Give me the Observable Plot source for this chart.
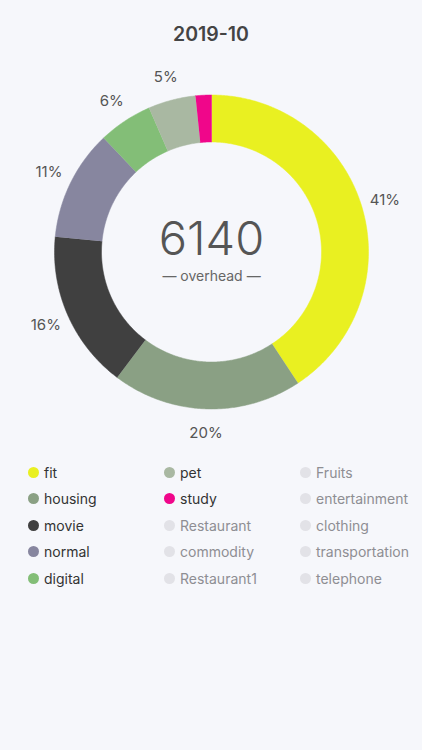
<!DOCTYPE html>
<html>
<head>
<meta charset="utf-8">
<script src="https://cdn.jsdelivr.net/npm/d3@7"></script>
<script src="https://cdn.jsdelivr.net/npm/@observablehq/plot@0.6"></script>
<style>
  body { margin: 0; background: #f6f7fb; font-family: Inter, "Open Sans", sans-serif; width: 422px; height: 750px; overflow: hidden; }
  #title { position: absolute; top: 22px; left: 0; width: 422px; text-align: center; font-size: 19.5px; font-weight: 600; color: #444; }
  #chart { position: absolute; top: 52px; left: 0; }
  #legend { position: absolute; top: 459px; left: 28px; display: grid; grid-template-columns: 136px 136px 136px; grid-auto-flow: column; grid-template-rows: repeat(5, 26.5px); }
  .item { display: flex; align-items: center; font-size: 14px; color: #333; }
  .item .dot { width: 11px; height: 11px; border-radius: 50%; margin-right: 5px; }
  .item.off { color: #8e8e93; }
</style>
</head>
<body>
<div id="title">2019-10</div>
<div id="chart"></div>
<div id="legend"></div>
<script>
// slices of the month, in drawing order (clockwise from the top)
const categories = ["fit", "housing", "movie", "normal", "digital", "pet", "study"];
const values = [2500, 1200, 1000, 700, 340, 300, 100];
const colors = ["#e9f021", "#8aa084", "#404040", "#87869f", "#83be77", "#a9b8a2", "#f0068a"];
// categories with nothing spent
const emptyCategories = ["Restaurant", "commodity", "Restaurant1", "Fruits", "entertainment", "clothing", "transportation", "telephone"];
const centerLabel = "— overhead —";

const total = d3.sum(values);
const outerR = 157, innerR = 110, labelR = 181;

// build slice polygons in pixel-like units around the centre
const slices = [];
const polys = [];
let acc = 0;
categories.forEach((c, i) => {
  const a0 = acc / total * 2 * Math.PI;
  acc += values[i];
  const a1 = acc / total * 2 * Math.PI;
  const n = Math.max(4, Math.ceil((a1 - a0) / 0.01));
  for (let k = 0; k <= n; k++) {
    const a = a0 + (a1 - a0) * k / n;
    polys.push({ cat: c, x: outerR * Math.sin(a), y: outerR * Math.cos(a) });
  }
  for (let k = n; k >= 0; k--) {
    const a = a0 + (a1 - a0) * k / n;
    polys.push({ cat: c, x: innerR * Math.sin(a), y: innerR * Math.cos(a) });
  }
  const mid = (a0 + a1) / 2;
  slices.push({ cat: c, pct: Math.round(values[i] / total * 100), x: labelR * Math.sin(mid), y: labelR * Math.cos(mid) });
});

const chart = Plot.plot({
  width: 422,
  height: 400,
  margin: 0,
  x: { domain: [-211, 211], axis: null },
  y: { domain: [-200.5, 199.5], axis: null },
  color: { domain: categories, range: colors },
  style: { background: "transparent", fontFamily: "Inter, sans-serif" },
  marks: [
    Plot.line(polys, { x: "x", y: "y", z: "cat", fill: "cat", stroke: "cat", strokeWidth: 0.5 }),
    Plot.text(slices.filter(d => d.pct >= 3), { x: "x", y: "y", text: d => d.pct + "%", fill: "#555", fontSize: 15 }),
    Plot.text([total], { x: 0, y: -3, text: d => String(d), lineAnchor: "bottom", fill: "#555", fontSize: 47, fontWeight: 300 }),
    Plot.text([centerLabel], { x: 0, y: -19, text: d => d, lineAnchor: "top", fill: "#666", fontSize: 14 })
  ]
});
document.getElementById("chart").append(chart);

// legend: active categories first, then empty ones
const legend = document.getElementById("legend");
categories.concat(emptyCategories).forEach(name => {
  const i = categories.indexOf(name);
  const div = document.createElement("div");
  div.className = "item" + (i < 0 ? " off" : "");
  const dot = document.createElement("span");
  dot.className = "dot";
  dot.style.background = i < 0 ? "#e2e2e7" : colors[i];
  div.append(dot, name);
  legend.append(div);
});
</script>
</body>
</html>
